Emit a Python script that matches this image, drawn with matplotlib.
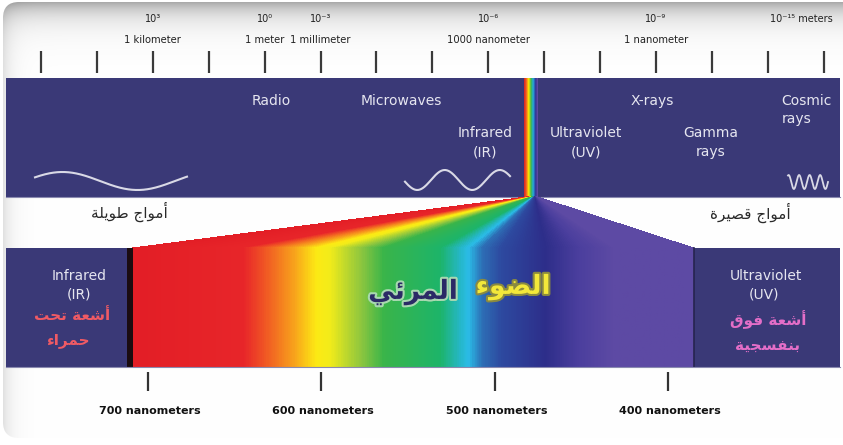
import numpy as np
import matplotlib
matplotlib.use("Agg")
import matplotlib.pyplot as plt
from matplotlib.colors import LinearSegmentedColormap
from matplotlib.patches import Rectangle, FancyBboxPatch
import matplotlib.patheffects as pe

# ---------------- data ----------------
ruler_ticks = list(range(15))
ruler_powers = ["10³", "10⁰", "10⁻³", "10⁻⁶", "10⁻⁹", "10⁻¹⁵ meters"]
ruler_names = ["1 kilometer", "1 meter", "1 millimeter", "1000 nanometer", "1 nanometer", ""]
ruler_label_ticks = [2, 4, 5, 8, 11, 13.6]

band_names = ["Radio", "Microwaves", "Infrared\n(IR)", "Ultraviolet\n(UV)",
              "X-rays", "Gamma\nrays", "Cosmic\nrays"]

long_waves_ar = "أمواج طويلة"
short_waves_ar = "أمواج قصيرة"
visible_ar_1 = "المرئي"
visible_ar_2 = "الضوء"
ir_ar = ["أشعة تحت", "حمراء"]
uv_ar = ["أشعة فوق", "بنفسجية"]

nm_ticks = [700, 600, 500, 400]
nm_labels = ["700 nanometers", "600 nanometers", "500 nanometers", "400 nanometers"]
spectrum_nm = [709, 645, 632, 616, 603, 595, 577, 564, 531, 520, 515, 507, 496, 470, 451, 431, 385]
spectrum_colors = ["#e31e26", "#e8262a", "#f15a24", "#f8a21c", "#fdea14", "#f2ec1a",
                   "#8dc63f", "#3ab54a", "#1db46a", "#25b7c4", "#2bbde8", "#2d6fb6",
                   "#2d4aa0", "#2e2e8a", "#4b3f9e", "#5d4aa4", "#5d4aa4"]

# ---------------- arabic shaping ----------------
DUAL = {'ب': (0xFE8F, 0xFE90, 0xFE91, 0xFE92), 'ت': (0xFE95, 0xFE96, 0xFE97, 0xFE98),
        'ج': (0xFE9D, 0xFE9E, 0xFE9F, 0xFEA0), 'ح': (0xFEA1, 0xFEA2, 0xFEA3, 0xFEA4),
        'س': (0xFEB1, 0xFEB2, 0xFEB3, 0xFEB4), 'ش': (0xFEB5, 0xFEB6, 0xFEB7, 0xFEB8),
        'ص': (0xFEB9, 0xFEBA, 0xFEBB, 0xFEBC), 'ض': (0xFEBD, 0xFEBE, 0xFEBF, 0xFEC0),
        'ط': (0xFEC1, 0xFEC2, 0xFEC3, 0xFEC4), 'ع': (0xFEC9, 0xFECA, 0xFECB, 0xFECC),
        'ف': (0xFED1, 0xFED2, 0xFED3, 0xFED4), 'ق': (0xFED5, 0xFED6, 0xFED7, 0xFED8),
        'ل': (0xFEDD, 0xFEDE, 0xFEDF, 0xFEE0), 'م': (0xFEE1, 0xFEE2, 0xFEE3, 0xFEE4),
        'ن': (0xFEE5, 0xFEE6, 0xFEE7, 0xFEE8), 'ي': (0xFEF1, 0xFEF2, 0xFEF3, 0xFEF4),
        'ئ': (0xFE89, 0xFE8A, 0xFE8B, 0xFE8C)}
RIGHT = {'ا': (0xFE8D, 0xFE8E), 'أ': (0xFE83, 0xFE84), 'ة': (0xFE93, 0xFE94),
         'ر': (0xFEAD, 0xFEAE), 'و': (0xFEED, 0xFEEE), 'د': (0xFEA9, 0xFEAA)}
NONJ = {'ء': 0xFE80}


def shape(s):
    out = []
    for i, c in enumerate(s):
        prev = s[i - 1] if i > 0 else ' '
        nxt = s[i + 1] if i < len(s) - 1 else ' '
        jp = prev in DUAL and (c in DUAL or c in RIGHT)
        jn = c in DUAL and (nxt in DUAL or nxt in RIGHT)
        if c in DUAL:
            iso, fin, ini, med = DUAL[c]
            code = med if (jp and jn) else fin if jp else ini if jn else iso
        elif c in RIGHT:
            iso, fin = RIGHT[c]
            code = fin if jp else iso
        elif c in NONJ:
            code = NONJ[c]
        else:
            out.append(c)
            continue
        out.append(chr(code))
    return ''.join(reversed(out))


# ---------------- figure ----------------
W, H = 843, 445
fig = plt.figure(figsize=(8.43, 4.45), dpi=100)
ax = fig.add_axes([0, 0, 1, 1])
ax.set_xlim(0, W)
ax.set_ylim(H, 0)
ax.axis("off")

NAVY = "#3a3977"

# card background with grey bevel
yy, xx = np.mgrid[0:H, 0:W]
g = 1 - 0.38 * np.exp(-yy / 14.0) - 0.16 * np.exp(-xx / 9.0)
g = np.clip(g, 0, 1)
bg = np.dstack([g, g, g])
card = FancyBboxPatch((3, 2), W + 20, 436, boxstyle="round,pad=0,rounding_size=16",
                      facecolor="none", edgecolor="none")
ax.add_patch(card)
im = ax.imshow(bg, extent=(0, W, H, 0), zorder=0, interpolation="bilinear")
im.set_clip_path(card)

# ruler
tick_x = lambda t: 41 + t * 55.9
for t in ruler_ticks:
    ax.plot([tick_x(t), tick_x(t)], [51, 73], color="#3a3a3a", lw=1.6, zorder=3,
            solid_capstyle="butt")
for p, n, t in zip(ruler_powers, ruler_names, ruler_label_ticks):
    ax.text(tick_x(t), 19, p, ha="center", va="center", fontsize=7, color="#222222")
    if n:
        ax.text(tick_x(t), 40, n, ha="center", va="center", fontsize=7.2, color="#222222")

# top navy band
ax.add_patch(Rectangle((6, 78), W - 9, 119, facecolor=NAVY, edgecolor="none", zorder=1))
ax.plot([6, W - 3], [197, 197], color="#8a8ab0", lw=0.8, zorder=2)

cmap = LinearSegmentedColormap.from_list(
    "spec", list(zip([(spectrum_nm[0] - v) / (spectrum_nm[0] - spectrum_nm[-1]) for v in spectrum_nm],
                     spectrum_colors)))

# thin rainbow strip in the band
strip = np.linspace(0, 1, 64)[None, :]
rain = LinearSegmentedColormap.from_list(
    "rain", ["#d81f26", "#f26522", "#fff200", "#39b54a", "#27aae1", "#2e3192", "#6a4ea4"])
ax.imshow(strip, cmap=rain, extent=(524, 538, 197, 78), aspect="auto", zorder=2,
          interpolation="bilinear")

# band labels (white)
lab_kw = dict(ha="center", va="center", fontsize=10, color="#e6e6f0", zorder=4)
ax.text(271, 101, band_names[0], **lab_kw)
ax.text(401, 101, band_names[1], **lab_kw)
for (x, y0), name in zip([(485, 133), (586, 133), (711, 133)],
                         [band_names[2], band_names[3], band_names[5]]):
    l1, l2 = name.split("\n")
    ax.text(x, y0, l1, **lab_kw)
    ax.text(x, y0 + 19, l2, **lab_kw)
ax.text(652, 101, band_names[4], **lab_kw)
c1, c2 = band_names[6].split("\n")
ax.text(806, 101, c1, **lab_kw)
ax.text(797, 119, c2, **lab_kw)

# waves
wx = np.linspace(35, 187, 200)
ax.plot(wx, 181 - 9 * np.sin(2 * np.pi * (wx - 25) / 150), color="#d9d9e6", lw=1.5, zorder=4)
wx = np.linspace(405, 510, 200)
ax.plot(wx, 180 - 10 * np.sin(2 * np.pi * (wx - 431) / 55), color="#d9d9e6", lw=1.5, zorder=4)
wx = np.linspace(788, 828, 300)
ax.plot(wx, 182 - 7 * np.sin(2 * np.pi * (wx - 786) / 10.5), color="#d9d9e6", lw=1.3, zorder=4)

# arabic long/short waves
ax.text(129, 212, shape(long_waves_ar), ha="center", va="center", fontsize=11,
        color="#2a2a2a", family="DejaVu Sans", zorder=4)
ax.text(750, 213, shape(short_waves_ar), ha="center", va="center", fontsize=11,
        color="#2a2a2a", family="DejaVu Sans", zorder=4)

# nm -> pixel
nm_x = lambda nm: 148 + (700 - nm) * 1.733
sx0, sx1 = nm_x(spectrum_nm[0]), nm_x(spectrum_nm[-1])

# fan
fy0, fy1 = 197, 248
fx, fy = np.meshgrid(np.arange(100, 720) + 0.5, np.arange(fy0, fy1 + 1) + 0.0)
s = (fy - fy0) / (fy1 - fy0)
xl = 526 + s * (sx0 - 526)
xr = 538 + s * (sx1 - 538)
tt = (fx - xl) / (xr - xl)
rgba = cmap(np.clip(tt, 0, 1))
rgba[..., 3] = ((tt >= 0) & (tt <= 1)).astype(float)
ax.imshow(rgba, extent=(100, 720, fy1 + 0.5, fy0 - 0.5), aspect="auto", zorder=2,
          interpolation="bilinear")

# bottom band
ax.add_patch(Rectangle((6, 248), sx0 - 6, 119, facecolor=NAVY, edgecolor="none", zorder=1))
ax.add_patch(Rectangle((sx1, 248), W - 3 - sx1, 119, facecolor=NAVY, edgecolor="none", zorder=1))
spec = np.linspace(0, 1, 600)[None, :]
ax.imshow(spec, cmap=cmap, extent=(sx0, sx1, 367, 248), aspect="auto", zorder=2,
          interpolation="bilinear")
ax.add_patch(Rectangle((sx0 - 5, 248), 6, 119, facecolor="#1a0c10", edgecolor="none", zorder=3))
ax.plot([sx1, sx1], [248, 367], color="#26244f", lw=1.2, zorder=3)
ax.plot([6, W - 3], [367, 367], color="#8a8ab0", lw=0.8, zorder=3)

# box labels
ax.text(79, 276, "Infrared", **lab_kw)
ax.text(79, 294, "(IR)", **lab_kw)
ax.text(766, 276, "Ultraviolet", **lab_kw)
ax.text(764, 295, "(UV)", **lab_kw)
ax.text(72, 316, shape(ir_ar[0]), ha="center", va="center", fontsize=11, fontweight="bold",
        color="#ef5a64", zorder=4)
ax.text(68, 341, shape(ir_ar[1]), ha="center", va="center", fontsize=11, fontweight="bold",
        color="#ef5a64", zorder=4)
ax.text(768, 320, shape(uv_ar[0]), ha="center", va="center", fontsize=11, fontweight="bold",
        color="#e46ec8", zorder=4)
ax.text(767, 346, shape(uv_ar[1]), ha="center", va="center", fontsize=11, fontweight="bold",
        color="#e46ec8", zorder=4)

# big visible light title
ax.text(413, 292, shape(visible_ar_1), ha="center", va="center", fontsize=19, fontweight="bold",
        color="#2b2a66", zorder=5,
        path_effects=[pe.withStroke(linewidth=3, foreground="#a8d8b0")])
ax.text(513, 287, shape(visible_ar_2), ha="center", va="center", fontsize=19, fontweight="bold",
        color="#f3e83a", zorder=5,
        path_effects=[pe.withStroke(linewidth=3, foreground="#8a8a40")])

# bottom nm ticks
for nm, lab in zip(nm_ticks, nm_labels):
    x = nm_x(nm)
    ax.plot([x, x], [372, 391], color="#333333", lw=1.6, zorder=3, solid_capstyle="butt")
    ax.text(x + 2, 411, lab, ha="center", va="center", fontsize=8, fontweight="bold",
            color="#111111", zorder=4)

fig.savefig("out.png", dpi=100)
